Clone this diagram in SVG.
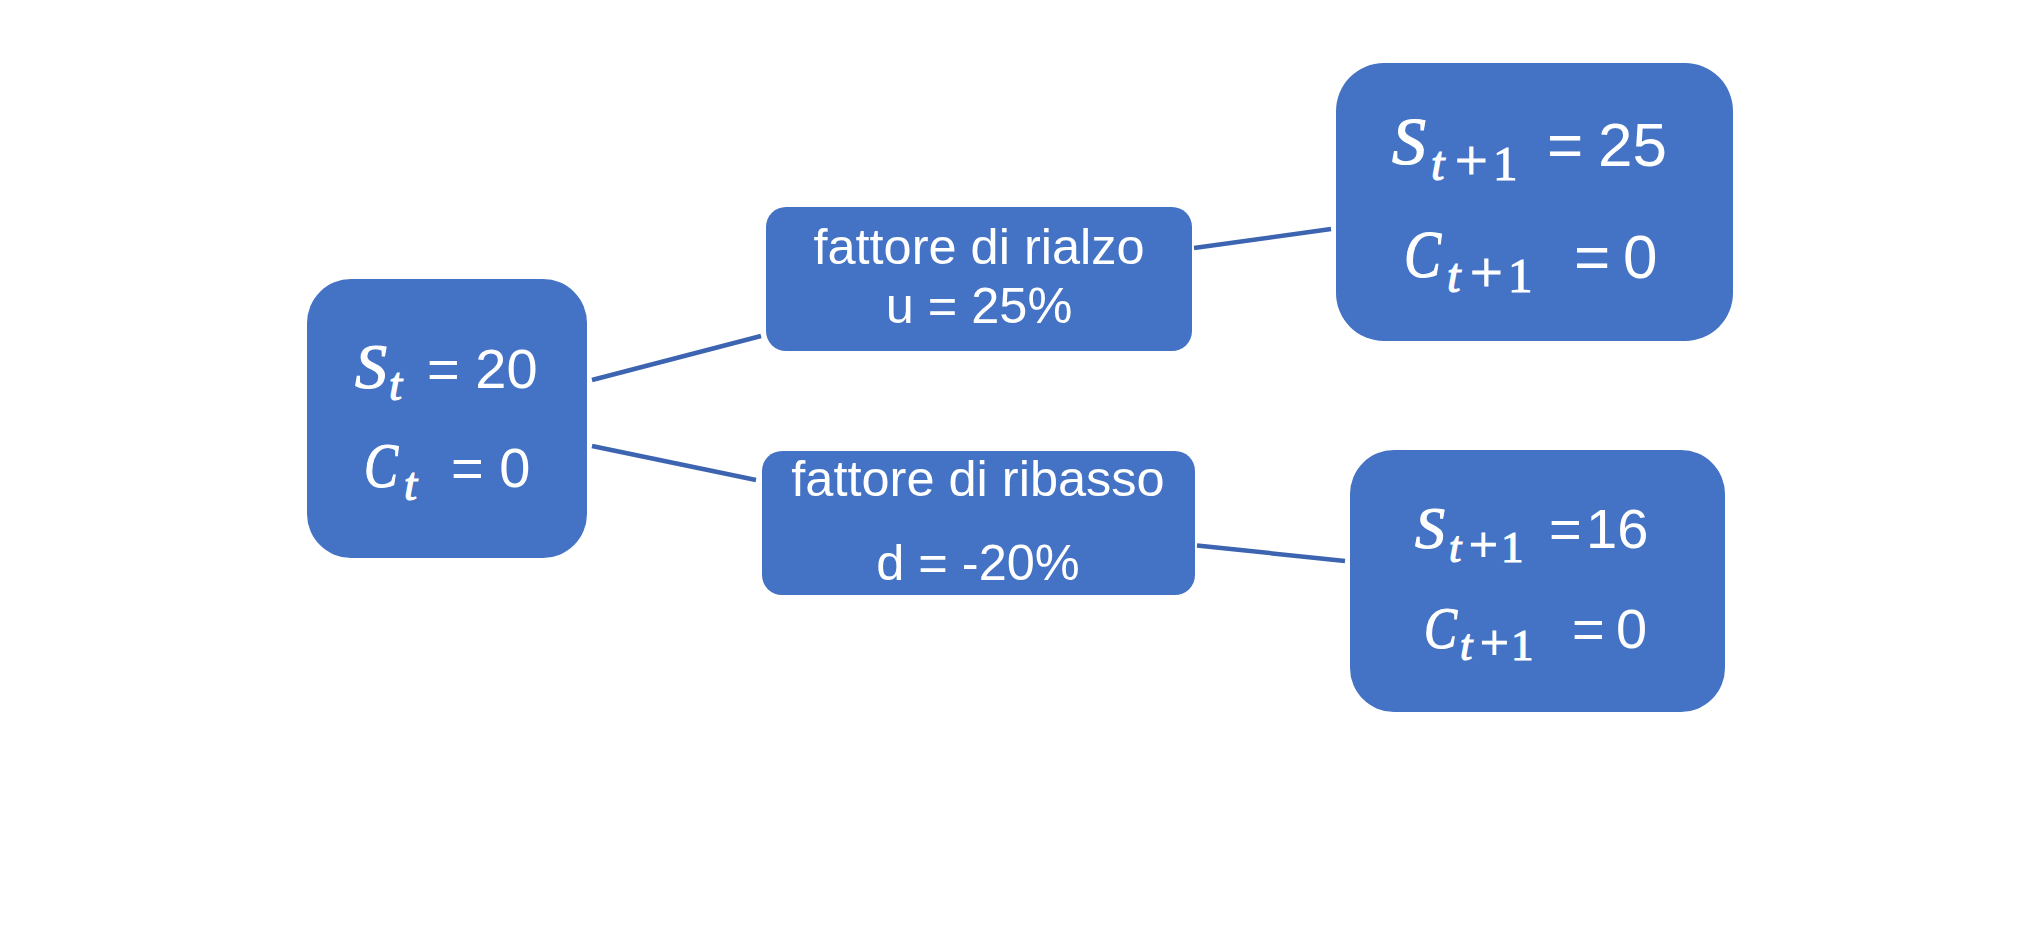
<svg xmlns="http://www.w3.org/2000/svg" width="2041" height="940" viewBox="0 0 2041 940">
<style>
.box{fill:#4472C4;}
.lbl{font-family:"Liberation Sans",Arial,sans-serif;fill:#FFFFFF;}
.mth{font-family:"Liberation Serif","Times New Roman",serif;font-style:italic;fill:#FFFFFF;stroke:#FFFFFF;stroke-width:1.2;}
.up{font-style:normal;}
.conn{stroke:#3D64B0;stroke-width:4.5;fill:none;stroke-linecap:butt;}
</style>
<rect x="0" y="0" width="2041" height="940" fill="#FFFFFF"/>
<g id="connectors">
<line class="conn" x1="592" y1="380" x2="761" y2="336"/>
<line class="conn" x1="592" y1="446" x2="756" y2="480"/>
<line class="conn" x1="1194" y1="248" x2="1331" y2="229"/>
<line class="conn" x1="1197" y1="545.5" x2="1345" y2="561"/>
</g>
<g id="node-root">
<rect class="box" x="307" y="279" width="280" height="279" rx="44" ry="44"/>
<text class="mth" x="355" y="388" font-size="64">S</text>
<text class="mth" x="389" y="400" font-size="47">t</text>
<text class="lbl" x="427" y="388" font-size="56">= 20</text>
<text class="mth" x="364" y="487" font-size="64" textLength="34" lengthAdjust="spacingAndGlyphs">C</text>
<text class="mth" x="404" y="500" font-size="47">t</text>
<text class="lbl" x="451" y="487" font-size="56">= 0</text>
</g>
<g id="node-up-factor">
<rect class="box" x="766" y="207" width="426" height="144" rx="20" ry="20"/>
<text class="lbl" x="979" y="264" font-size="50.5" text-anchor="middle">fattore di rialzo</text>
<text class="lbl" x="979" y="322.5" font-size="50.5" text-anchor="middle">u = 25%</text>
</g>
<g id="node-down-factor">
<rect class="box" x="762" y="451" width="433" height="144" rx="20" ry="20"/>
<text class="lbl" x="978" y="496" font-size="50.5" text-anchor="middle">fattore di ribasso</text>
<text class="lbl" x="978" y="579.5" font-size="50.5" text-anchor="middle">d = -20%</text>
</g>
<g id="node-up">
<rect class="box" x="1336" y="63" width="397" height="278" rx="48" ry="48"/>
<text class="mth" x="1392" y="164" font-size="68">S</text>
<text class="mth" font-size="48" y="180"><tspan x="1431">t</tspan><tspan class="up" x="1455" font-size="58">+</tspan><tspan class="up" x="1493" font-size="49">1</tspan></text>
<text class="lbl" x="1547" y="166" font-size="62">=</text>
<text class="lbl" x="1598" y="166" font-size="62">25</text>
<text class="mth" x="1404" y="277" font-size="68" textLength="37" lengthAdjust="spacingAndGlyphs">C</text>
<text class="mth" font-size="48" y="292"><tspan x="1447">t</tspan><tspan class="up" x="1470" font-size="58">+</tspan><tspan class="up" x="1508" font-size="49">1</tspan></text>
<text class="lbl" x="1574" y="278" font-size="62">=</text>
<text class="lbl" x="1623" y="278" font-size="62">0</text>
</g>
<g id="node-down">
<rect class="box" x="1350" y="450" width="375" height="262" rx="44" ry="44"/>
<text class="mth" x="1415" y="548" font-size="60">S</text>
<text class="mth" font-size="44" y="562"><tspan x="1449">t</tspan><tspan class="up" x="1469" font-size="51">+</tspan><tspan class="up" x="1501" font-size="45">1</tspan></text>
<text class="lbl" x="1549" y="548" font-size="56">=</text>
<text class="lbl" x="1586" y="548" font-size="56">16</text>
<text class="mth" x="1424" y="648" font-size="60" textLength="33" lengthAdjust="spacingAndGlyphs">C</text>
<text class="mth" font-size="44" y="660"><tspan x="1460">t</tspan><tspan class="up" x="1480" font-size="51">+</tspan><tspan class="up" x="1511" font-size="45">1</tspan></text>
<text class="lbl" x="1572" y="648" font-size="56">=</text>
<text class="lbl" x="1616" y="648" font-size="56">0</text>
</g>
</svg>
